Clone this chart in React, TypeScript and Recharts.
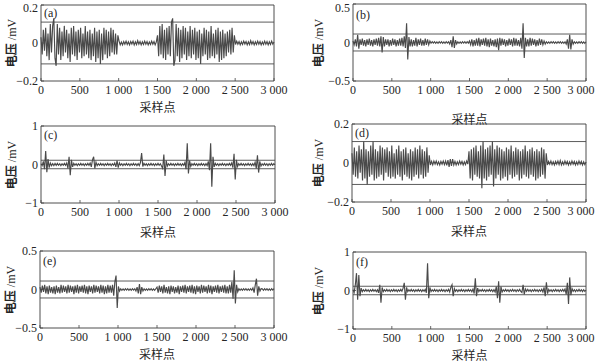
import React from 'react';
import { LineChart, Line, XAxis, YAxis, ReferenceLine, ReferenceArea } from 'recharts';

// Sample index grid (every 15th sampling point, 0..3000)
const SAMPLE_STEP = 15;
const SAMPLE_COUNT = 201;
const X_TICKS = [0, 500, 1000, 1500, 2000, 2500, 3000];
const THRESHOLD = 0.11;

// (a) voltage, mV
const SIG_A = [
  .03,-.06,.07,-.04,.08,-.07,.05,-.09,.1,-.05,
  .09,.13,-.08,-.12,.1,-.06,.08,-.09,.06,-.07,
  .09,-.05,.07,-.08,.05,-.1,.08,-.06,.09,-.07,
  .06,-.09,.07,-.05,.08,-.08,.05,-.07,.09,-.06,
  .06,-.08,.07,-.09,.05,-.07,.08,-.1,.06,-.08,
  .07,-.11,.05,-.09,.08,-.06,.07,-.08,.06,-.07,
  .08,-.05,.07,-.06,.05,-.06,.04,.01,-.01,.005,
  -.01,.008,-.006,.01,-.008,.006,-.01,.008,-.005,.01,
  -.01,.006,-.008,.012,-.006,.008,-.01,.006,-.008,.01,
  -.006,.008,-.01,.005,-.008,.01,-.006,.008,-.01,.006,
  .04,-.07,.09,-.06,.1,-.08,.07,-.09,.08,-.06,
  .09,-.07,.11,.13,-.12,-.09,.1,-.07,.08,-.1,
  .07,-.08,.09,-.06,.08,-.09,.06,-.07,.09,-.08,
  .07,-.06,.08,-.09,.06,-.08,.07,-.11,.05,-.07,
  .08,-.06,.07,-.09,.06,-.08,.09,-.07,.05,-.08,
  .07,-.06,.08,-.1,.06,-.09,.07,-.08,.05,-.07,
  .06,-.05,.07,-.06,.08,-.05,.04,-.008,.01,-.006,
  .008,-.01,.006,-.008,.01,-.005,.008,-.01,.006,-.008,
  .012,-.006,.008,-.01,.006,-.008,.01,-.006,.008,-.01,
  .005,-.008,.01,-.006,.008,-.01,.006,-.008,.01,-.006,
  .005,
];

// (b)
const SIG_B = [
  .02,-.03,.04,-.05,.1,-.08,.04,-.03,.05,-.04,
  .03,-.05,.04,-.03,.05,-.04,.03,-.05,.04,-.03,
  .05,-.04,.06,-.05,.08,-.13,.07,-.05,.04,-.03,
  .04,-.05,.03,-.04,.05,-.03,.04,-.05,.03,-.04,
  .05,-.04,.06,-.05,.08,-.07,.25,-.22,.07,-.05,
  .04,-.05,.03,-.04,.06,-.05,.04,-.03,.05,-.04,
  .03,-.04,.05,-.03,.04,-.03,.02,-.01,.01,-.008,
  .01,-.01,.008,-.01,.01,-.008,.01,-.01,.008,-.01,
  .01,-.008,.01,-.02,.03,-.06,.08,-.07,.03,-.02,
  .01,-.01,.008,-.01,.01,-.008,.01,-.01,.01,-.008,
  .02,-.03,.04,-.05,.03,-.04,.05,-.04,.06,-.05,
  .04,-.03,.05,-.04,.06,-.05,.04,-.06,.05,-.04,
  .03,-.05,.04,-.06,.05,-.1,.06,-.04,.05,-.03,
  .04,-.05,.03,-.04,.05,-.03,.04,-.05,.06,-.04,
  .05,-.04,.03,-.05,.06,-.08,.25,-.2,.06,-.05,
  .04,-.05,.06,-.04,.05,-.03,.04,-.05,.03,-.04,
  .05,-.03,.04,-.03,.02,-.02,.01,-.01,.008,-.01,
  .01,-.008,.01,-.01,.008,-.01,.01,-.008,.01,-.01,
  .008,-.01,.01,-.02,.04,-.08,.1,-.09,.04,-.02,
  .01,-.01,.008,-.01,.01,-.008,.01,-.01,.008,-.01,
  .01,
];

// (c)
const SIG_C = [
  .02,-.03,.08,-.12,.35,-.2,.14,-.08,.04,-.03,
  .02,-.03,.03,-.02,.03,-.02,.02,-.03,.02,-.02,
  .03,-.02,.04,-.1,.2,-.28,.12,-.06,.03,-.02,
  .02,-.03,.02,-.02,.03,-.02,.02,-.03,.02,-.02,
  .03,-.02,.04,-.06,.12,.2,-.1,.06,-.03,.02,
  -.02,.03,-.02,.02,-.03,.02,-.02,.03,-.02,.02,
  -.03,.02,-.02,.04,-.06,.1,-.08,.04,-.02,.02,
  -.03,.02,-.02,.03,-.02,.02,-.03,.02,-.02,.03,
  -.02,.02,-.03,.02,-.03,.05,.3,-.05,.03,-.02,
  .02,-.03,.02,-.02,.03,-.02,.02,-.03,.02,-.02,
  .03,-.02,.02,-.04,-.1,.26,-.3,.1,-.04,.02,
  -.02,.03,-.02,.02,-.03,.02,-.02,.03,-.02,.02,
  -.03,.02,-.02,.05,-.12,.55,-.23,.1,-.05,.02,
  -.02,.03,-.02,.02,-.03,.02,-.02,.03,-.02,.02,
  -.03,.02,-.03,.08,-.15,.55,-.58,.2,-.06,.03,
  -.02,.02,-.03,.02,-.02,.03,-.02,.02,-.03,.02,
  -.02,.03,-.02,.04,-.08,.28,-.39,.12,-.05,.02,
  -.02,.03,-.02,.02,-.03,.02,-.02,.03,-.02,.02,
  -.03,.02,-.03,.06,-.1,.24,-.21,.08,-.04,.02,
  -.02,.03,-.02,.02,-.03,.02,-.02,.03,-.02,.02,
  -.01,
];

// (d)
const SIG_D = [
  .05,-.06,.08,-.07,.06,-.08,.09,-.05,.07,-.09,
  .11,-.08,.07,-.11,.06,-.07,.09,-.06,.11,-.09,
  .07,-.08,.06,-.07,.09,-.06,.08,-.09,.07,-.05,
  .08,-.07,.06,-.08,.09,-.07,.05,-.08,.07,-.06,
  .09,-.07,.06,-.09,.07,-.06,.08,-.07,.05,-.08,
  .07,-.09,.06,-.07,.08,-.06,.07,-.08,.09,-.06,
  .07,-.08,.06,-.07,.08,-.05,.04,-.01,.008,-.01,
  .01,-.006,.01,-.008,.006,-.01,.008,-.006,.01,-.008,
  .01,-.012,.015,-.02,.02,-.015,.02,-.01,.008,-.01,
  .006,-.008,.01,-.006,.008,-.01,.006,-.008,.01,-.006,
  .06,-.08,.07,-.09,.08,-.06,.09,-.07,.06,-.08,
  .09,-.13,.11,-.08,.07,-.09,.08,-.07,.09,-.06,
  .11,-.12,.07,-.08,.09,-.06,.08,-.09,.07,-.08,
  .06,-.07,.08,-.09,.07,-.06,.09,-.08,.06,-.07,
  .08,-.06,.07,-.09,.06,-.08,.07,-.06,.09,-.07,
  .06,-.08,.07,-.06,.08,-.07,.06,-.09,.07,-.08,
  .06,-.07,.08,-.06,.07,-.08,.05,-.01,.008,-.006,
  .01,-.008,.006,-.01,.008,-.006,.01,-.008,.012,-.01,
  .006,-.008,.01,-.006,.008,-.01,.006,-.008,.01,-.006,
  .008,-.01,.006,-.008,.01,-.006,.008,-.01,.006,-.008,
  .005,
];

// (e)
const SIG_E = [
  .03,-.04,.05,-.03,.06,-.05,.04,-.06,.05,-.04,
  .03,-.05,.04,-.06,.05,-.04,.03,-.05,.06,-.04,
  .05,-.03,.04,-.05,.06,-.04,.05,-.03,.04,-.06,
  .05,-.04,.06,-.05,.04,-.03,.05,-.04,.06,-.05,
  .04,-.06,.05,-.03,.04,-.05,.06,-.04,.05,-.03,
  .04,-.05,.06,-.04,.05,-.06,.04,-.05,.06,-.04,
  .05,-.04,.06,-.08,.1,.18,-.24,.04,-.02,.01,
  -.01,.008,-.01,.01,-.008,.01,-.01,.008,-.01,.01,
  -.008,.01,-.02,.03,-.05,.07,-.06,.03,-.02,.01,
  -.01,.008,-.01,.01,-.008,.01,-.01,.008,-.01,.01,
  .03,-.04,.05,-.03,.04,-.05,.06,-.04,.03,-.05,
  .04,-.06,.05,-.03,.04,-.05,.03,-.04,.05,-.06,
  .04,-.03,.05,-.04,.06,-.05,.04,-.03,.05,-.04,
  .06,-.05,.04,-.06,.05,-.03,.04,-.05,.06,-.04,
  .05,-.03,.04,-.05,.06,-.04,.05,-.06,.04,-.03,
  .05,-.04,.06,-.05,.04,-.03,.05,-.04,.06,-.05,
  .04,-.05,.06,-.04,.1,-.12,.25,-.18,.06,-.03,
  .01,-.01,.008,-.01,.01,-.008,.01,-.01,.008,-.01,
  .01,-.01,.02,-.04,.06,.14,-.08,.04,-.02,.01,
  .008,-.01,.01,-.008,.01,-.01,.008,-.01,.01,-.008,
  .01,
];

// (f)
const SIG_F = [
  .02,-.05,.15,.45,-.24,.4,-.15,.06,-.03,.02,
  -.02,.03,-.02,.02,-.03,.02,-.02,.03,-.02,.02,
  -.03,.02,-.06,.15,-.32,.08,-.03,.02,-.02,.03,
  -.02,.02,-.03,.02,-.02,.03,-.02,.02,-.03,.02,
  -.02,.03,-.02,.06,.2,-.24,.08,-.03,.02,-.02,
  .03,-.02,.02,-.03,.02,-.02,.03,-.02,.02,-.03,
  .02,-.02,.03,-.06,.71,-.2,.08,-.03,.02,-.02,
  .03,-.02,.02,-.03,.02,-.02,.03,-.02,.02,-.03,
  .02,-.02,.03,-.04,.08,.15,-.15,.05,-.02,.02,
  -.03,.02,-.02,.03,-.02,.02,-.03,.02,-.02,.03,
  -.02,.02,-.03,.04,-.08,.32,-.15,.06,-.03,.02,
  -.02,.03,-.02,.02,-.03,.02,-.02,.03,-.02,.02,
  -.03,.02,-.04,.1,-.2,.24,-.32,.1,-.04,.02,
  -.02,.03,-.02,.02,-.03,.02,-.02,.03,-.02,.02,
  -.03,.02,-.02,.03,-.02,-.05,.15,-.1,.04,-.02,
  .03,-.02,.02,-.03,.02,-.02,.03,-.02,.02,-.03,
  .02,-.02,.03,-.04,.08,-.15,.21,-.08,.03,-.02,
  .02,-.03,.02,-.02,.03,-.02,.02,-.03,.02,-.02,
  .03,-.02,.04,-.1,.2,-.35,.34,-.12,.05,-.02,
  .02,-.03,.02,-.02,.03,-.02,.02,-.03,.02,-.02,
  .01,
];

const SAMPLES = Array.from({ length: SAMPLE_COUNT }, (_, i) => i * SAMPLE_STEP);

const PANEL_NAMES = ['(a)', '(b)', '(c)', '(d)', '(e)', '(f)'];
const PANEL_VALUES = [SIG_A, SIG_B, SIG_C, SIG_D, SIG_E, SIG_F];
const PANEL_YMAX = [0.2, 0.5, 1, 0.2, 0.5, 1];

// layout (plot rectangles in page pixels)
const LAYOUT = [
  { left: 41, top: 5, w: 233, h: 76, xLabelY: 106, yLabelX: 11, labelTop: 7 },
  { left: 353, top: 4, w: 233, h: 77, xLabelY: 118, yLabelX: 318, labelTop: 9 },
  { left: 41, top: 126, w: 234, h: 77, xLabelY: 231, yLabelX: 11, labelTop: 129 },
  { left: 352, top: 124, w: 234, h: 78, xLabelY: 230, yLabelX: 318, labelTop: 127 },
  { left: 40, top: 251, w: 234, h: 77, xLabelY: 353, yLabelX: 10, labelTop: 255 },
  { left: 353, top: 252, w: 233, h: 77, xLabelY: 354, yLabelX: 318, labelTop: 256 },
];

const SERIF = "'Liberation Serif', 'Times New Roman', serif";
const CJK = "'Noto Sans CJK SC', sans-serif";
const INK = '#262626';
const MIN_TOP_BASELINE = 12; // keep top tick labels inside the page

const fmtX = (v: number) => {
  if (v < 1000) return String(v);
  const th = Math.floor(v / 1000);
  const rest = String(v % 1000).padStart(3, '0');
  return `${th} ${rest}`;
};
const fmtY = (v: number) => (v < 0 ? '\u2212' + String(-v) : String(v));

const makeXTick = (lastShift: number) => (props: any) => {
  const { x, y, payload } = props;
  const dx = payload.value === 3000 ? lastShift : 0;
  return (
    <g>
      <line x1={x} x2={x} y1={y} y2={y - 3} stroke="#444" strokeWidth={0.8} />
      <text x={x + dx} y={y + 13} textAnchor="middle" fontSize={12} fontFamily={SERIF} fill={INK}>
        {fmtX(payload.value)}
      </text>
    </g>
  );
};

const makeYTick = (pageOffset: number) => (props: any) => {
  const { x, y, payload } = props;
  const baseline = Math.max(y + 4, MIN_TOP_BASELINE - pageOffset);
  return (
    <g>
      <line x1={x} x2={x + 3} y1={y} y2={y} stroke="#444" strokeWidth={0.8} />
      <text x={x - 3} y={baseline} textAnchor="end" fontSize={12} fontFamily={SERIF} fill={INK}>
        {fmtY(payload.value)}
      </text>
    </g>
  );
};

const Panel = ({ idx }: { idx: number }) => {
  const L = LAYOUT[idx];
  const values = PANEL_VALUES[idx];
  const yMax = PANEL_YMAX[idx];
  const data = SAMPLES.map((s, i) => ({ x: s, v: values[i] }));
  const padL = 41;
  const padT = 12;
  const padR = 22;
  const width = padL + L.w + padR;
  const height = padT + L.h + 26;
  const isRight = L.left > 300;
  const XTick = makeXTick(isRight ? -5 : 0);
  const YTick = makeYTick(L.top - padT);
  return (
    <>
      <div style={{ position: 'absolute', left: L.left - padL, top: L.top - padT, width, height }}>
        <LineChart width={width} height={height} data={data} margin={{ top: padT, right: padR, bottom: 0, left: 0 }}>
          <XAxis
            dataKey="x"
            type="number"
            domain={[0, 3000]}
            ticks={X_TICKS}
            interval={0}
            axisLine={false}
            tickLine={false}
            tickSize={0}
            tickMargin={0}
            height={26}
            tick={<XTick />}
          />
          <YAxis
            type="number"
            domain={[-yMax, yMax]}
            ticks={[-yMax, 0, yMax]}
            interval={0}
            allowDataOverflow
            axisLine={false}
            tickLine={false}
            tickSize={0}
            tickMargin={0}
            width={padL}
            tick={<YTick />}
          />
          <ReferenceArea x1={0} x2={3000} y1={-yMax} y2={yMax} fill="none" fillOpacity={0} stroke="#3a3a3a" strokeWidth={0.9} />
          <ReferenceLine y={THRESHOLD} stroke="#4a4a4a" strokeWidth={0.9} />
          <ReferenceLine y={-THRESHOLD} stroke="#4a4a4a" strokeWidth={0.9} />
          <Line
            type="linear"
            dataKey="v"
            stroke="#4a4a4a"
            strokeWidth={1.15}
            dot={false}
            activeDot={false}
            isAnimationActive={false}
          />
        </LineChart>
      </div>
      <div
        style={{
          position: 'absolute',
          left: L.left + 3,
          top: L.labelTop,
          fontSize: 12,
          lineHeight: '12px',
          fontFamily: SERIF,
          color: INK,
        }}
      >
        {PANEL_NAMES[idx]}
      </div>
      <div
        style={{
          position: 'absolute',
          left: L.yLabelX,
          top: L.top + L.h / 2,
          transform: 'translate(-50%, -50%) rotate(-90deg)',
          whiteSpace: 'nowrap',
          fontSize: 12,
          lineHeight: '14px',
          fontFamily: `${SERIF.split(',')[0]}, ${CJK}`,
          color: INK,
        }}
      >
        <span style={{ fontFamily: CJK, fontWeight: 700 }}>电压</span> /mV
      </div>
      <div
        style={{
          position: 'absolute',
          left: L.left + L.w / 2,
          top: L.xLabelY,
          transform: 'translate(-50%, -50%)',
          whiteSpace: 'nowrap',
          fontSize: 12,
          lineHeight: '13px',
          fontFamily: CJK,
          color: INK,
        }}
      >
        采样点
      </div>
    </>
  );
};

export default function App() {
  return (
    <div
      style={{
        position: 'absolute',
        left: 0,
        top: 0,
        width: 596,
        height: 363,
        overflow: 'hidden',
        background: '#fff',
      }}
    >
      {PANEL_NAMES.map((_, i) => (
        <Panel key={i} idx={i} />
      ))}
    </div>
  );
}
